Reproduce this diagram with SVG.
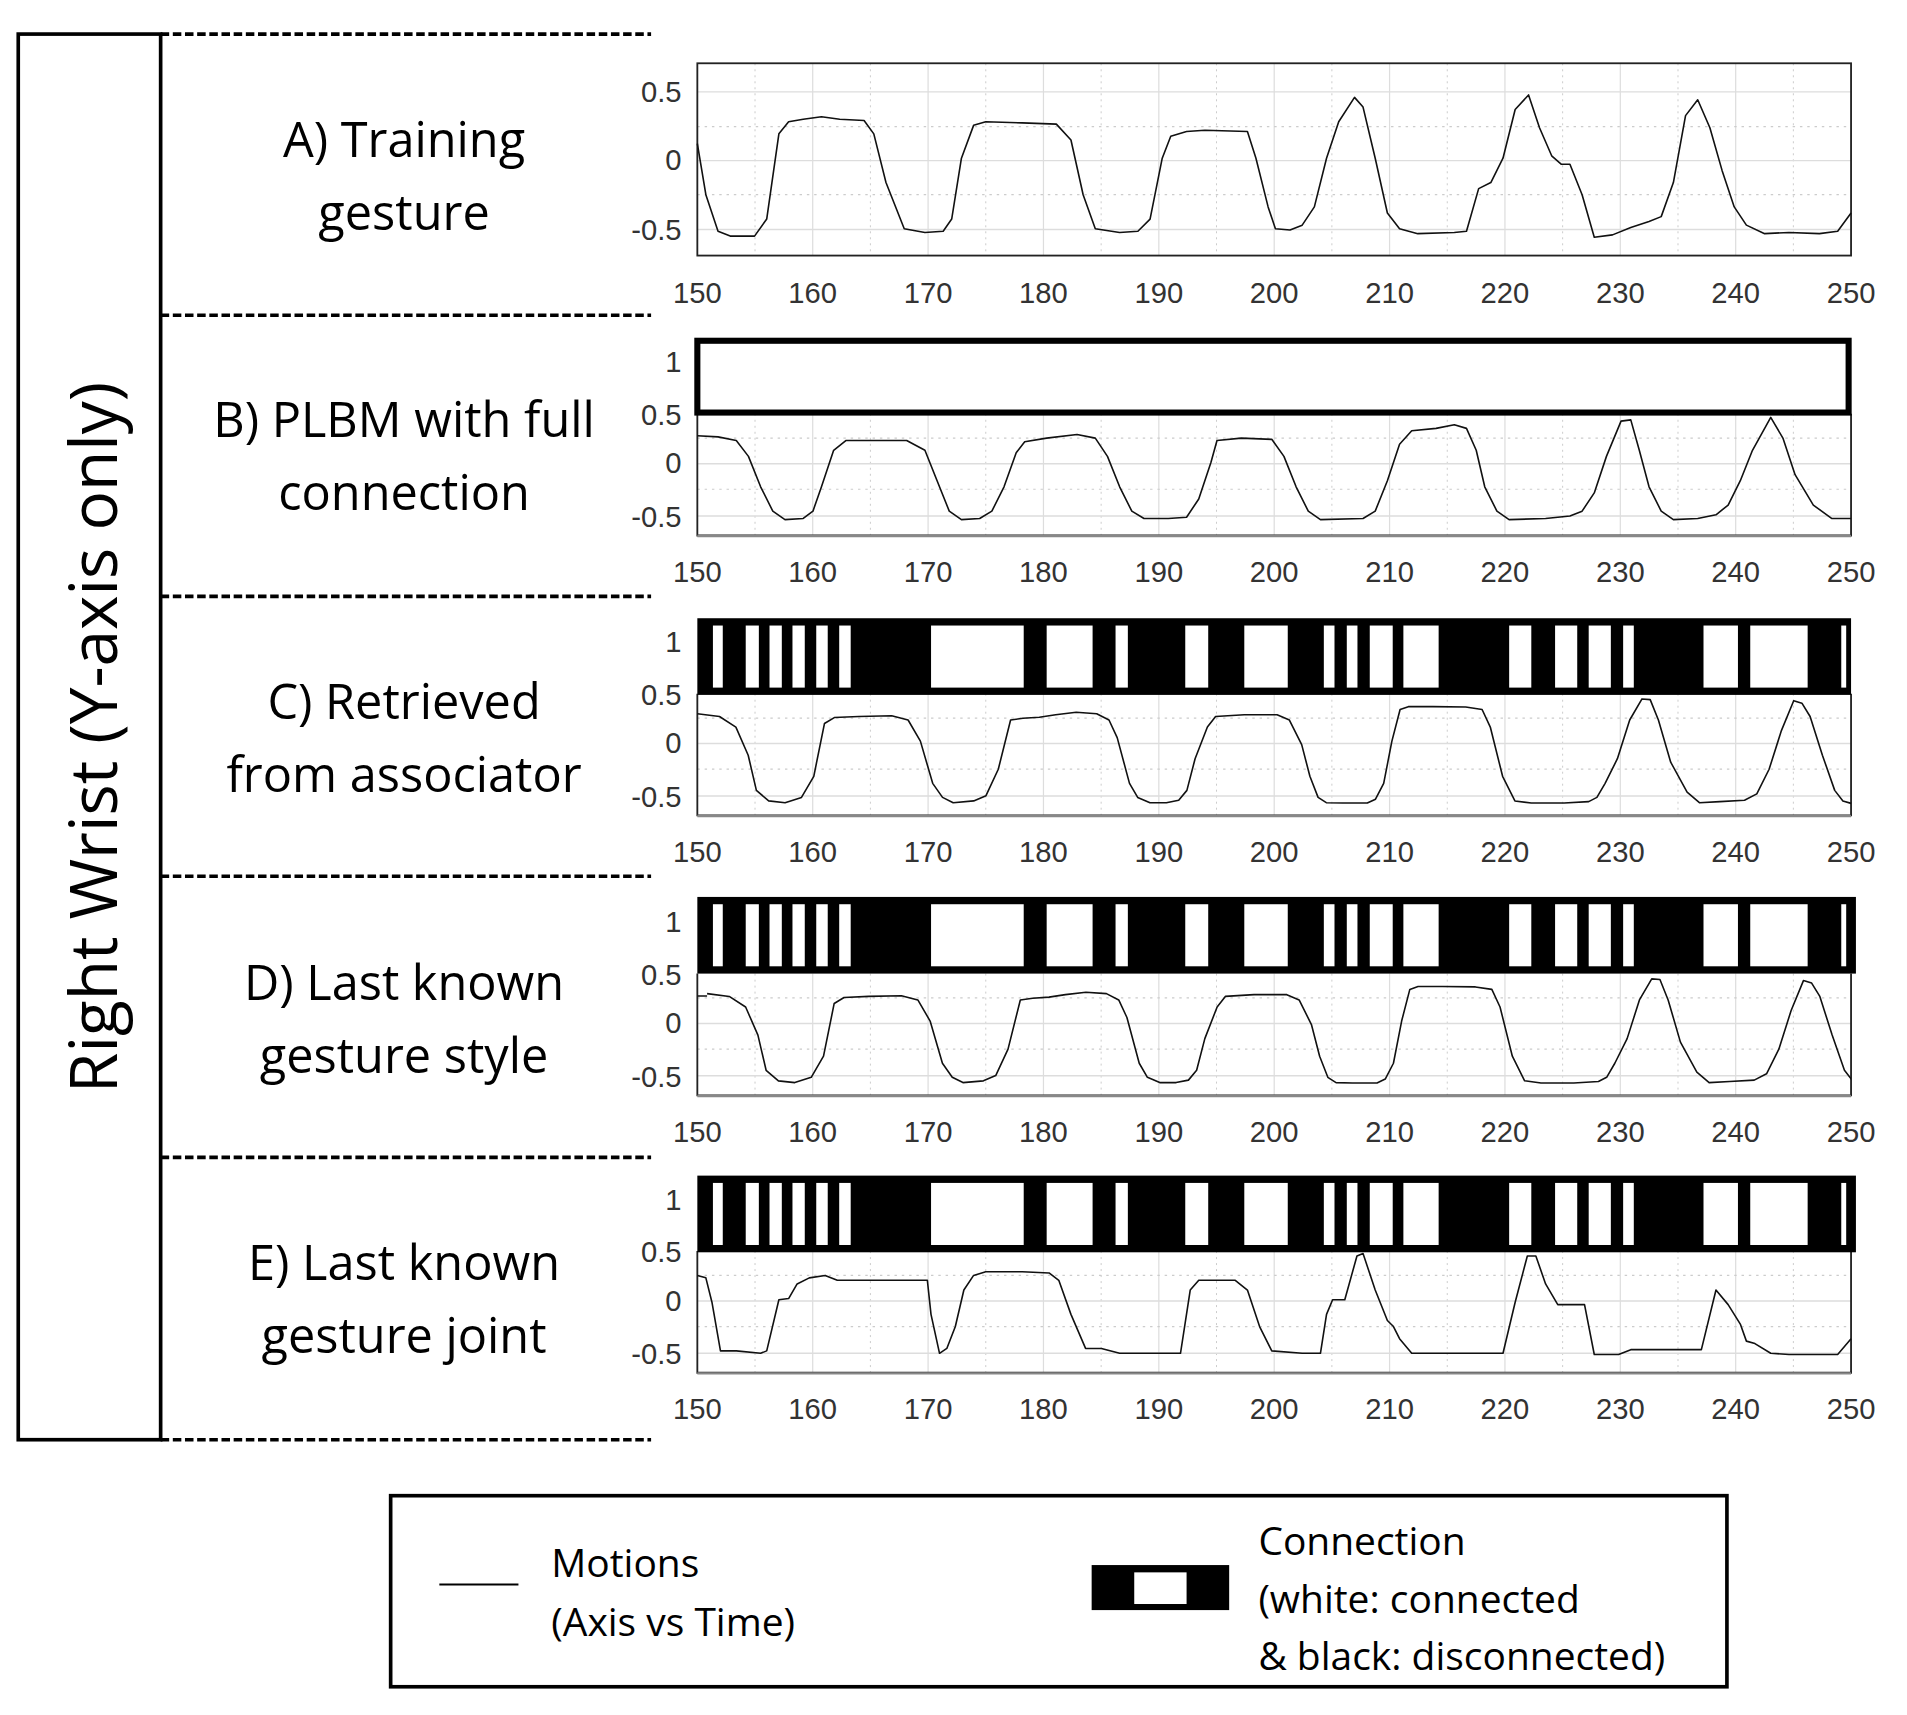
<svg xmlns="http://www.w3.org/2000/svg" xmlns:xlink="http://www.w3.org/1999/xlink" width="1907" height="1715" viewBox="0 0 1907 1715">
<style>
.lbl{font-family:"Open Sans","Noto Sans",sans-serif;font-size:40px;fill:#000;text-anchor:middle}
.tk{font-family:"Liberation Sans",Arial,sans-serif;font-size:24px;fill:#333}
.tx{text-anchor:middle}
.ty{text-anchor:end}
.maj{stroke:#ddd;stroke-width:1.2;fill:none}
.min{stroke:#ccc;stroke-width:1;stroke-dasharray:2 4;fill:none}
.crv{fill:none;stroke:#111;stroke-width:1.6;vector-effect:non-scaling-stroke;stroke-linejoin:round}
.dash{stroke:#000;stroke-width:3;stroke-dasharray:7 3}
.leg{font-family:"Open Sans","Noto Sans",sans-serif;font-size:32px;fill:#000}
</style>
<defs>
<g id="vgrid">
<path class="min" d="M620.4 0V1M715.2 0V1M810 0V1M904.8 0V1M999.6 0V1M1094.4 0V1M1189.2 0V1M1284 0V1M1378.8 0V1M1473.6 0V1" vector-effect="non-scaling-stroke"/>
<path class="maj" d="M667.8 0V1M762.6 0V1M857.4 0V1M952.2 0V1M1047 0V1M1141.8 0V1M1236.6 0V1M1331.4 0V1M1426.2 0V1" vector-effect="non-scaling-stroke"/>
</g>
<g id="xlab" class="tk tx">
<text x="573" y="0">150</text><text x="667.8" y="0">160</text><text x="762.6" y="0">170</text><text x="857.4" y="0">180</text><text x="952.2" y="0">190</text><text x="1047" y="0">200</text><text x="1141.8" y="0">210</text><text x="1236.6" y="0">220</text><text x="1331.4" y="0">230</text><text x="1426.2" y="0">240</text><text x="1521" y="0">250</text>
</g>
<g id="gridBE">
<g transform="translate(0,-41) scale(1,100)"><use xlink:href="#vgrid"/></g>
<path class="min" d="M573 -21H1521M573 21H1521"/>
<path class="maj" d="M573 0H1521M573 43H1521"/>
<path d="M573 -41V59H1521V-41" fill="none" stroke="#222" stroke-width="1.5"/>
<path d="M573 59.5H1521" stroke="#888" stroke-width="2"/>
<g class="tk ty"><text x="560" y="-75">1</text><text x="560" y="-32">0.5</text><text x="560" y="8">0</text><text x="560" y="52">-0.5</text></g>
<use xlink:href="#xlab" y="97"/>
</g>
<g id="stripes" fill="#fff">
<rect x="112" y="0" width="12" height="1"/><rect x="152" y="0" width="16" height="1"/><rect x="181" y="0" width="15" height="1"/><rect x="209" y="0" width="15" height="1"/><rect x="238" y="0" width="14" height="1"/><rect x="266" y="0" width="14" height="1"/><rect x="378" y="0" width="113" height="1"/><rect x="519" y="0" width="56" height="1"/><rect x="603" y="0" width="15" height="1"/><rect x="688" y="0" width="28" height="1"/><rect x="760" y="0" width="53" height="1"/><rect x="857" y="0" width="13" height="1"/><rect x="885" y="0" width="13" height="1"/><rect x="913" y="0" width="28" height="1"/><rect x="954" y="0" width="43" height="1"/><rect x="1083" y="0" width="27" height="1"/><rect x="1139" y="0" width="27" height="1"/><rect x="1180" y="0" width="27" height="1"/><rect x="1222" y="0" width="13" height="1"/><rect x="1320" y="0" width="42" height="1"/><rect x="1377" y="0" width="70" height="1"/><rect x="1488" y="0" width="6" height="1"/>
</g>
<polyline id="curveC" class="crv" points="93,402 120,410 140,440 155,520 165,620 180,650 200,655 220,640 235,580 248,430 260,413 290,410 330,408 350,420 365,480 380,600 392,640 405,655 430,650 445,635 460,560 475,420 490,415 510,412 530,405 555,398 580,402 595,420 605,470 620,600 630,640 645,655 665,655 680,648 690,620 700,530 715,440 725,410 760,405 800,405 815,420 830,490 840,580 850,640 860,655 880,656 910,656 920,645 930,600 940,480 950,390 960,382 990,382 1030,383 1050,390 1060,440 1075,580 1090,650 1110,656 1150,656 1180,652 1190,640 1200,600 1215,530 1230,420 1245,360 1255,362 1265,420 1280,540 1300,625 1315,655 1340,652 1370,648 1385,630 1400,560 1415,450 1430,365 1440,372 1450,410 1465,520 1480,620 1490,650 1500,657"/>
<clipPath id="clipD"><rect x="573" y="800" width="948" height="100"/></clipPath>
</defs>
<g transform="scale(1.2170)">
<rect width="1570" height="1410" fill="#fff"/>
<g id="frame">
<rect x="15" y="28" width="117" height="1155" fill="none" stroke="#000" stroke-width="3"/>
<text transform="translate(96,606) rotate(-90)" class="lbl" style="font-size:54px">Right Wrist (Y-axis only)</text>
</g>
<g id="dividers">
<path class="dash" d="M132 28H535M132 259H535M132 490H535M132 720H535M132 951H535M132 1183H535"/>
</g>
<g id="labels">
<text class="lbl" x="332" y="129">A) Training</text><text class="lbl" x="332" y="189">gesture</text>
<text class="lbl" x="332" y="359">B) PLBM with full</text><text class="lbl" x="332" y="419">connection</text>
<text class="lbl" x="332" y="591">C) Retrieved</text><text class="lbl" x="332" y="651">from associator</text>
<text class="lbl" x="332" y="822">D) Last known</text><text class="lbl" x="332" y="882">gesture style</text>
<text class="lbl" x="332" y="1052">E) Last known</text><text class="lbl" x="332" y="1112">gesture joint</text>
</g>
<g id="panelA">
<g transform="translate(0,52) scale(1,158)"><use xlink:href="#vgrid"/></g>
<path class="min" d="M573 104H1521M573 160H1521"/>
<path class="maj" d="M573 75.5H1521M573 132H1521M573 188.5H1521"/>
<rect x="573" y="52" width="948" height="158" fill="none" stroke="#222" stroke-width="1.5"/>
<g class="tk ty"><text x="560" y="84">0.5</text><text x="560" y="140">0</text><text x="560" y="197">-0.5</text></g>
<use xlink:href="#xlab" y="249"/>
<polyline class="crv" points="573,118 580,160 590,190 600,194 620,194 630,180 640,110 648,100 660,98 675,96 690,98 710,99 718,110 728,150 743,188 760,191 775,190 782,180 790,130 800,103 810,100 840,101 868,102 880,115 890,160 900,188 920,191 935,190 945,180 955,130 962,112 975,108 990,107 1025,108 1032,130 1042,170 1048,188 1060,189 1070,185 1080,170 1090,130 1100,100 1113,80 1120,88 1130,130 1140,175 1150,188 1165,192 1195,191 1205,190 1215,155 1225,150 1235,130 1245,90 1256,78 1265,105 1275,128 1283,135 1290,135 1300,160 1310,195 1325,193 1340,187 1355,182 1365,178 1375,150 1385,95 1395,82 1405,105 1415,140 1425,170 1435,185 1450,192 1470,191 1495,192 1510,190 1521,175"/>
</g>
<g id="panelB">
<g transform="translate(0,381)"><use xlink:href="#gridBE"/></g>
<rect x="573" y="280" width="946" height="59" fill="#fff" stroke="#000" stroke-width="5"/>
<polyline class="crv" points="573,358 590,359 605,362 615,375 625,400 635,420 645,427 660,426 668,420 675,400 685,370 695,362 720,362 745,362 760,370 770,395 780,420 790,427 805,426 815,420 825,400 835,372 842,363 860,360 885,357 900,360 910,375 920,400 930,420 940,426 960,426 975,425 985,410 995,380 1000,362 1020,360 1045,361 1055,375 1065,400 1075,420 1085,427 1120,426 1130,420 1140,395 1150,365 1160,354 1180,352 1195,349 1205,352 1213,370 1220,400 1230,420 1240,427 1270,426 1290,424 1300,420 1310,405 1320,375 1332,346 1340,345 1347,370 1355,400 1365,420 1375,427 1395,426 1410,423 1420,415 1430,395 1440,370 1455,343 1465,360 1475,390 1490,415 1505,426 1521,426"/>
</g>
<g id="panelC">
<g transform="translate(0,611)"><use xlink:href="#gridBE"/></g>
<rect x="573" y="508" width="948" height="63" fill="#000"/>
<use xlink:href="#stripes" transform="matrix(0.6738,0,0,51,510.34,514)"/>
<use xlink:href="#curveC" transform="matrix(0.6738,0,0,0.289,510.34,470.26)"/>
</g>
<g id="panelD">
<g transform="translate(0,841)"><use xlink:href="#gridBE"/></g>
<rect x="573" y="737" width="952" height="63" fill="#000"/>
<use xlink:href="#stripes" transform="matrix(0.6738,0,0,51,510.34,743)"/>
<g clip-path="url(#clipD)">
<polyline class="crv" points="573,818.4 581,818.4"/>
<use xlink:href="#curveC" transform="matrix(0.6738,0,0,0.289,518.34,700.26)"/>
</g>
</g>
<g id="panelE">
<g transform="translate(0,1069)"><use xlink:href="#gridBE"/></g>
<rect x="573" y="966" width="952" height="63" fill="#000"/>
<use xlink:href="#stripes" transform="matrix(0.6738,0,0,51,510.34,972)"/>
<polyline class="crv" points="573,1048 580,1050 585,1070 592,1110 605,1110 625,1112 630,1110 640,1068 648,1067 655,1055 665,1050 678,1048 688,1052 700,1052 762,1052 765,1080 772,1112 778,1108 785,1090 792,1060 800,1048 810,1045 840,1045 862,1046 870,1052 880,1080 892,1108 905,1108 920,1112 970,1112 978,1060 985,1052 1015,1052 1025,1060 1035,1090 1045,1110 1070,1112 1085,1112 1090,1080 1095,1068 1105,1068 1115,1032 1120,1030 1130,1060 1140,1085 1145,1090 1150,1100 1160,1112 1200,1112 1235,1112 1245,1070 1255,1032 1262,1032 1270,1055 1280,1072 1290,1072 1302,1072 1310,1113 1320,1113 1330,1113 1340,1109 1370,1109 1398,1109 1410,1060 1420,1072 1430,1088 1435,1102 1442,1104 1455,1112 1470,1113 1510,1113 1521,1100"/>
</g>
<g id="legend">
<rect x="321" y="1229" width="1098" height="157" fill="none" stroke="#000" stroke-width="3"/>
<path d="M361 1302H426" stroke="#000" stroke-width="1.5"/>
<text class="leg" x="453" y="1296">Motions</text>
<text class="leg" x="453" y="1344">(Axis vs Time)</text>
<rect x="897" y="1286" width="113" height="37" fill="#000"/>
<rect x="932" y="1292" width="43" height="26" fill="#fff"/>
<text class="leg" x="1034" y="1278">Connection</text>
<text class="leg" x="1034" y="1325">(white: connected</text>
<text class="leg" x="1034" y="1372">&amp; black: disconnected)</text>
</g>
</g>
</svg>
